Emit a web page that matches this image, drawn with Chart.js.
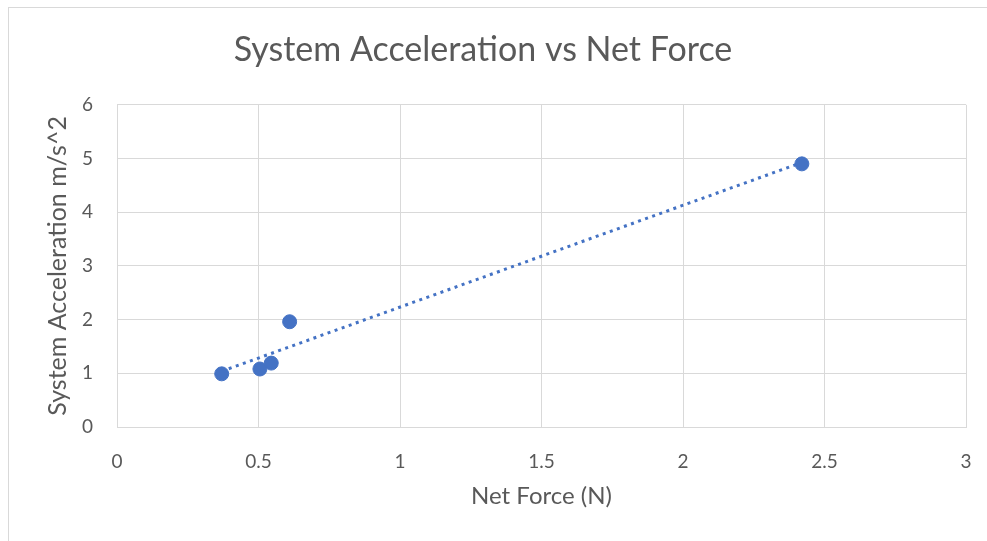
<!DOCTYPE html>
<html>
<head>
<meta charset="utf-8">
<script src="https://cdn.jsdelivr.net/npm/chart.js@4.4.1/dist/chart.umd.min.js"></script>
<style>
  html, body { margin: 0; padding: 0; background: #fff; }
  #wrap { position: relative; width: 987px; height: 541px; overflow: hidden; }
  #frame { position: absolute; left: 8px; top: 7px; right: -5px; bottom: -5px; border: 1.5px solid #d9d9d9; }
  canvas { position: absolute; left: 0; top: 0; }
</style>
</head>
<body>
<div id="wrap">
  <div id="frame"></div>
  <canvas id="chart" width="987" height="541"></canvas>
</div>
<script>
const netForce = [0.37, 0.505, 0.545, 0.61, 2.42];
const systemAccel = [0.99, 1.08, 1.19, 1.96, 4.9];
const xTicks = [0, 0.5, 1, 1.5, 2, 2.5, 3];
const yTicks = [0, 1, 2, 3, 4, 5, 6];

const blue = '#4472C4';
const textGray = '#595959';
const gridGray = '#d9d9d9';
const fontFamily = 'Lato';

// linear trendline (least squares) over the data
const n = netForce.length;
const mx = netForce.reduce((a, b) => a + b, 0) / n;
const my = systemAccel.reduce((a, b) => a + b, 0) / n;
let sxy = 0, sxx = 0;
netForce.forEach((x, i) => {
  sxy += (x - mx) * (systemAccel[i] - my);
  sxx += (x - mx) * (x - mx);
});
const slope = sxy / sxx;
const intercept = my - slope * mx;
const xMin = Math.min(...netForce);
const xMax = Math.max(...netForce);

const points = netForce.map((x, i) => ({ x: x, y: systemAccel[i] }));
const trend = [xMin, xMax].map((x) => ({ x: x, y: intercept + slope * x }));

new Chart(document.getElementById('chart'), {
  type: 'scatter',
  data: {
    datasets: [
      {
        label: 'Data',
        data: points,
        backgroundColor: blue,
        borderColor: blue,
        pointRadius: 7,
        pointHoverRadius: 7,
        order: 1,
      },
      {
        label: 'Trend',
        type: 'line',
        data: trend,
        borderColor: blue,
        borderWidth: 3,
        borderDash: [3, 4.5],
        pointRadius: 0,
        fill: false,
        order: 2,
      },
    ],
  },
  options: {
    responsive: false,
    animation: false,
    layout: { padding: { left: 0, right: 21, top: 0, bottom: 0 } },
    plugins: {
      legend: { display: false },
      tooltip: { enabled: false },
      title: {
        display: true,
        text: 'System Acceleration vs Net Force',
        color: textGray,
        font: { family: fontFamily, size: 34, weight: 'normal' },
        padding: { top: 30, bottom: 34 },
      },
    },
    scales: {
      x: {
        type: 'linear',
        min: 0,
        max: 3,
        afterBuildTicks: (axis) => {
          axis.ticks = xTicks.map((v) => ({ value: v }));
        },
        afterFit: (axis) => {
          axis.height = 114;
          // tick padding would otherwise widen the right margin
          axis.paddingRight = 0;
          axis.paddingLeft = 0;
        },
        grid: { color: gridGray, drawTicks: false },
        border: { color: gridGray },
        ticks: {
          color: textGray,
          padding: 23,
          font: { family: fontFamily, size: 19 },
          callback: (v) => String(v),
        },
        title: {
          display: true,
          text: 'Net Force (N)',
          color: textGray,
          font: { family: fontFamily, size: 24 },
          padding: { top: 0, bottom: 30 },
        },
      },
      y: {
        type: 'linear',
        min: 0,
        max: 6,
        afterBuildTicks: (axis) => {
          axis.ticks = yTicks.map((v) => ({ value: v }));
        },
        afterFit: (axis) => {
          axis.width = 117;
        },
        grid: { color: gridGray, drawTicks: false },
        border: { color: gridGray },
        ticks: {
          color: textGray,
          padding: 24,
          font: { family: fontFamily, size: 19 },
          callback: (v) => String(v),
        },
        title: {
          display: true,
          text: 'System Acceleration m/s^2',
          color: textGray,
          font: { family: fontFamily, size: 25 },
          padding: { top: 43, bottom: 0 },
        },
      },
    },
  },
});
</script>
</body>
</html>
